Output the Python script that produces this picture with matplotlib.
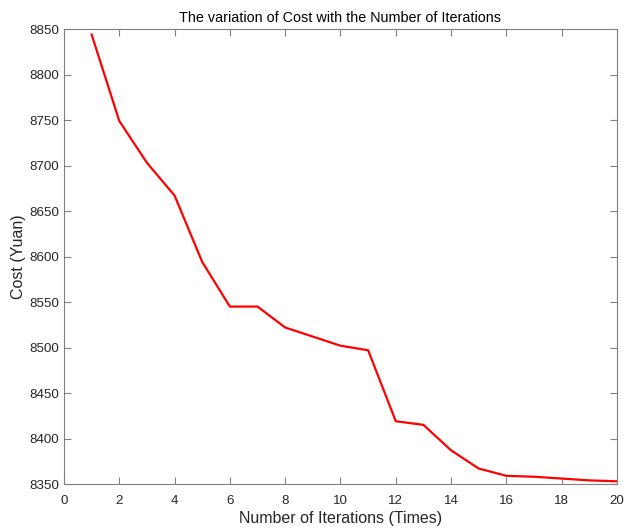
import matplotlib
matplotlib.use('Agg')
import matplotlib.pyplot as plt

plt.rcParams['font.family'] = ['Liberation Sans', 'DejaVu Sans']

iterations = list(range(1, 21))
cost = [8844, 8749, 8703, 8667, 8594, 8545, 8545, 8522, 8512, 8502,
        8497, 8419, 8415, 8387, 8367, 8359, 8358, 8356, 8354, 8353]

xticks = list(range(0, 21, 2))
yticks = list(range(8350, 8851, 50))

fig = plt.figure(figsize=(6.26, 5.28), dpi=100)
ax = fig.add_axes([0.1022, 0.0833, 0.8834, 0.8617])
ax.plot(iterations, cost, color='#ff0000', lw=1.6)

ax.set_xlim(0, 20)
ax.set_ylim(8350, 8850)
ax.set_xticks(xticks)
ax.set_yticks(yticks)
ax.tick_params(direction='in', length=5, width=0.8, colors='#808080',
               labelcolor='#262626', labelsize=9.6, top=True, right=True)
ax.tick_params(axis='x', pad=8)
ax.tick_params(axis='y', pad=3.5)
for s in ax.spines.values():
    s.set_color('#808080')
    s.set_linewidth(0.8)

ax.set_xlabel('Number of Iterations (Times)', fontsize=11.5, color='#262626', labelpad=2.5)
ax.set_ylabel('Cost (Yuan)', fontsize=11.5, color='#262626', labelpad=2)
ax.set_title('The variation of Cost with the Number of Iterations', fontsize=10.4,
             color='#000000', pad=5)

fig.savefig('out.png', dpi=100)
